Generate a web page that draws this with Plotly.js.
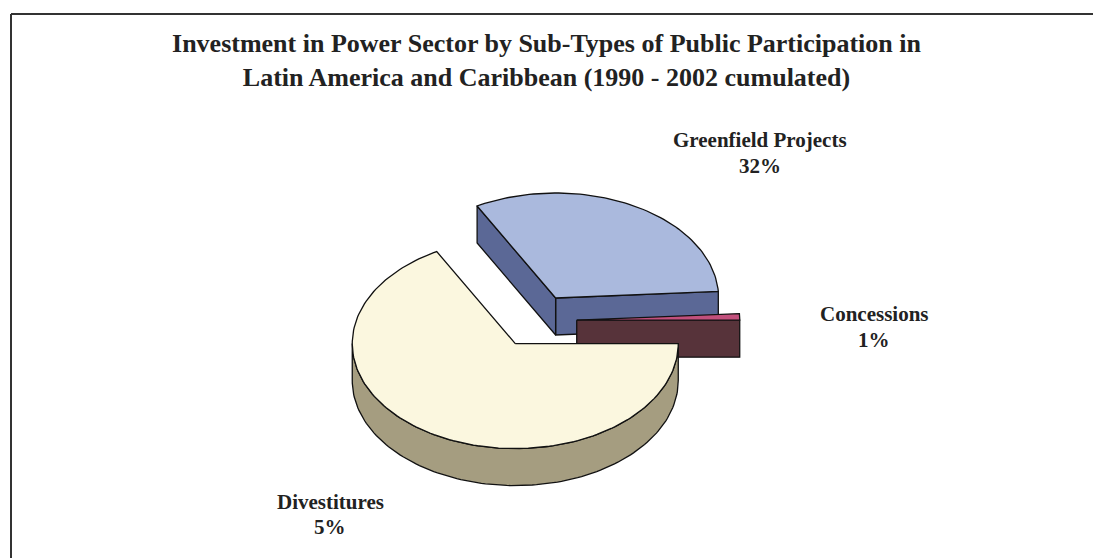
<!DOCTYPE html>
<html>
<head>
<meta charset="utf-8">
<script src="https://cdn.plot.ly/plotly-3.0.1.min.js"></script>
<style>html,body{margin:0;padding:0;background:#fff;}#chart{width:1093px;height:558px;}</style>
</head>
<body>
<div id="chart"></div>
<script>
// ---- data ----
const sliceLabels = ['Concessions', 'Greenfield Projects', 'Divestitures'];
const sliceValues = [1, 32, 67];
const sliceText = ['1%', '32%', '5%'];

// ---- styles / geometry ----
const topColors = ['#C2507C', '#AAB9DD', '#FBF7DF'];
const sideColors = ['#57333A', '#5B6896', '#A59D80'];
const geo = {cx: 536, cy: 321, rx: 163, ry: 105, depth: 37, explode: 0.25, startDeg: 0};
const labelPos = {
  'Greenfield Projects': {x: 760, y1: 140, y2: 166},
  'Concessions': {x: 874, y1: 314, y2: 340},
  'Divestitures': {x: 330, y1: 502, y2: 527}
};

const total = sliceValues.reduce((a, b) => a + b, 0);
const rad = d => d * Math.PI / 180;

function rim(sx, sy, t, dz) {
  return [sx + geo.rx * Math.cos(rad(t)), sy - geo.ry * Math.sin(rad(t)) + (dz || 0)];
}
function arcPts(sx, sy, a0, a1, dz) {
  const pts = [];
  const n = Math.max(2, Math.ceil(Math.abs(a1 - a0) / 1.5));
  for (let i = 0; i <= n; i++) pts.push(rim(sx, sy, a0 + (a1 - a0) * i / n, dz));
  return pts;
}
function poly(pts, fill, name) {
  const xs = pts.map(p => p[0]), ys = pts.map(p => p[1]);
  xs.push(xs[0]); ys.push(ys[0]);
  return {type: 'scatter', mode: 'lines', x: xs, y: ys, fill: 'toself', fillcolor: fill,
    line: {color: '#111', width: 1.3}, hoverinfo: 'skip', showlegend: false, name: name};
}

// compute slices
let acc = geo.startDeg;
const slices = sliceValues.map((v, i) => {
  const a0 = acc, a1 = acc + v / total * 360;
  acc = a1;
  const mid = (a0 + a1) / 2;
  const sx = geo.cx + geo.explode * geo.rx * Math.cos(rad(mid));
  const sy = geo.cy - geo.explode * geo.ry * Math.sin(rad(mid));
  return {i, a0, a1, sx, sy};
});
slices.sort((a, b) => a.sy - b.sy);

const traces = [];
const d = geo.depth;
slices.forEach(s => {
  const {i, a0, a1, sx, sy} = s;
  const side = sideColors[i], top = topColors[i], nm = sliceLabels[i];
  // radial faces
  if (Math.cos(rad(a0)) > 0.001) {
    const r = rim(sx, sy, a0);
    traces.push(poly([[sx, sy], r, [r[0], r[1] + d], [sx, sy + d]], side, nm));
  }
  if (Math.cos(rad(a1)) < -0.001) {
    const r = rim(sx, sy, a1);
    traces.push(poly([[sx, sy], r, [r[0], r[1] + d], [sx, sy + d]], side, nm));
  }
  // outer (front) arc side
  const lo = Math.max(a0, 180), hi = Math.min(a1, 360);
  if (hi > lo) {
    const topArc = arcPts(sx, sy, lo, hi, 0);
    const botArc = arcPts(sx, sy, hi, lo, d);
    traces.push(poly(topArc.concat(botArc), side, nm));
  }
  // top face
  const pts = [[sx, sy]].concat(arcPts(sx, sy, a0, a1, 0));
  traces.push(poly(pts, top, nm));
});

const annotations = [];
sliceLabels.forEach((lab, i) => {
  const p = labelPos[lab];
  const f = {family: 'Liberation Serif, Times New Roman, serif', size: 21, color: '#222'};
  annotations.push({x: p.x, y: p.y1, xref: 'x', yref: 'y', text: '<b>' + lab + '</b>', showarrow: false, font: f, xanchor: 'center', yanchor: 'middle'});
  annotations.push({x: p.x, y: p.y2, xref: 'x', yref: 'y', text: '<b>' + sliceText[i] + '</b>', showarrow: false, font: f, xanchor: 'center', yanchor: 'middle'});
});

const layout = {
  width: 1093, height: 558,
  margin: {l: 0, r: 0, t: 0, b: 0},
  paper_bgcolor: '#fff', plot_bgcolor: '#fff',
  title: {
    text: '<b>Investment in Power Sector by Sub-Types of Public Participation in<br>Latin America and Caribbean (1990 - 2002 cumulated)</b>',
    font: {family: 'Liberation Serif, Times New Roman, serif', size: 26, color: '#222'},
    x: 0.5, xanchor: 'center', yref: 'container', y: 1 - 52 / 558, yanchor: 'top'
  },
  xaxis: {range: [0, 1093], visible: false, fixedrange: true},
  yaxis: {range: [558, 0], visible: false, fixedrange: true},
  showlegend: false,
  annotations: annotations,
  shapes: [
    {type: 'line', xref: 'x', yref: 'y', x0: 11, y0: 14, x1: 1093, y1: 14, line: {color: '#333', width: 2}},
    {type: 'line', xref: 'x', yref: 'y', x0: 11, y0: 14, x1: 11, y1: 558, line: {color: '#333', width: 2}}
  ]
};

Plotly.newPlot('chart', traces, layout, {displayModeBar: false, staticPlot: true});
</script>
</body>
</html>
